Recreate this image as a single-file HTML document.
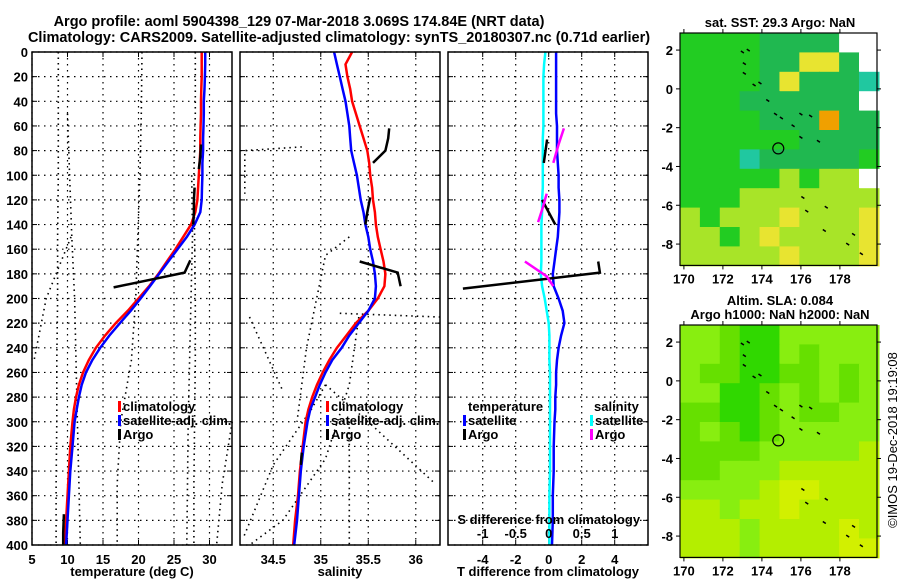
<!DOCTYPE html>
<html><head><meta charset="utf-8"><style>
body{margin:0;background:#fff;}
svg{display:block;font-family:"Liberation Sans",sans-serif;font-weight:bold;}
</style></head><body>
<svg id="c" width="900" height="580" viewBox="0 0 900 580" xmlns="http://www.w3.org/2000/svg">
<text x="299" y="26" font-size="14.5" text-anchor="middle">Argo profile: aoml 5904398_129 07-Mar-2018 3.069S 174.84E (NRT data)</text>
<text x="339" y="42" font-size="14.5" text-anchor="middle">Climatology: CARS2009. Satellite-adjusted climatology: synTS_20180307.nc (0.71d earlier)</text>
</svg>
<script>
// ---- profile data ----
const depths=[0,10,20,30,40,50,60,70,80,90,100,110,120,130,140,150,160,170,180,190,200,210,220,230,240,250,260,270,280,290,300,320,340,360,380,400];
const climT=[28.9,28.9,28.9,28.85,28.8,28.8,28.75,28.7,28.7,28.6,28.5,28.4,28.3,28.0,27.4,26.3,25.2,24.0,22.8,21.5,20.0,18.5,16.8,15.3,14.0,13.0,12.2,11.6,11.2,10.9,10.7,10.4,10.2,10.0,9.8,9.6];
const satT=[29.4,29.4,29.35,29.3,29.2,29.2,29.15,29.1,29.1,29.0,29.0,28.95,28.9,28.7,27.9,26.8,25.5,24.2,22.9,21.6,20.3,18.9,17.4,15.9,14.6,13.5,12.6,12.0,11.6,11.3,11.0,10.7,10.4,10.2,10.0,9.8];
const climS=[35.33,35.26,35.28,35.31,35.33,35.37,35.41,35.45,35.49,35.51,35.52,35.54,35.55,35.57,35.58,35.6,35.63,35.66,35.68,35.67,35.6,35.5,35.37,35.27,35.17,35.09,35.02,34.96,34.91,34.87,34.84,34.81,34.78,34.76,34.73,34.71];
const satS=[35.14,35.17,35.2,35.23,35.26,35.28,35.3,35.31,35.32,35.35,35.38,35.4,35.42,35.45,35.47,35.5,35.52,35.55,35.57,35.58,35.57,35.5,35.4,35.3,35.22,35.12,35.05,34.99,34.94,34.89,34.86,34.82,34.79,34.77,34.75,34.72];
const satDT=[0.45,0.45,0.45,0.45,0.45,0.45,0.5,0.5,0.5,0.55,0.6,0.6,0.65,0.65,0.6,0.55,0.45,0.35,0.25,0.3,0.6,0.85,0.95,0.75,0.6,0.5,0.45,0.45,0.4,0.4,0.35,0.3,0.3,0.25,0.25,0.2];
const satDS=[-0.05,-0.07,-0.08,-0.08,-0.08,-0.08,-0.08,-0.09,-0.09,-0.09,-0.09,-0.09,-0.1,-0.1,-0.11,-0.11,-0.11,-0.11,-0.12,-0.1,-0.06,-0.03,0,0.01,0.01,0.01,0.02,0.02,0.02,0.02,0.02,0.02,0.02,0.01,0.01,0.01];
const argoTD=[75,85,95,null,110,120,130,140,null,169,179,191,null,375,390,400];
const argoT=[28.8,28.7,28.5,null,27.9,27.8,27.8,27.7,null,27.3,26.5,16.5,null,9.5,9.4,9.4];
const argoSD=[62,70,80,90,null,118,130,140,null,170,179,190,null,325,335];
const argoS=[35.72,35.71,35.68,35.55,null,35.52,35.49,35.47,null,35.41,35.81,35.84,null,34.8,34.79];
const argoDTD=[71,90,null,120,140,null,170,179,192];
const argoDT=[-0.1,-0.3,null,-0.4,0.4,null,3.0,3.1,-5.2];
const argoDSD=[62,75,90,null,115,128,138,null,170,182,190];
const argoDS=[0.23,0.15,0.07,null,-0.03,-0.1,-0.16,null,-0.36,-0.03,0.07];
// other nearby profiles (dotted)
const othD=[0,50,100,150,200,250,300,350,400];
const othT1=[8.7,8.7,8.7,8.6,8.6,8.5,8.5,8.4,8.4];
const othT2=[null,10.0,10.3,10.6,11.0,11.2,11.4,11.6,11.8];
const othT3=[20.5,20.4,20.2,19.9,19.6,19.0,17.5,17.0,17.0];
const othT4=[null,null,null,10.5,7.0,5.3,null,null,null];
const othT5=[null,null,27.5,27.6,27.4,27.2,27.0,26.9,26.8];
const othT6=[null,null,null,null,null,null,33.2,31.8,31.0];
const othT7=[28.0,28.0,27.8,27.9,28.0,28.0,27.9,27.8,27.8];
const othS1D=[77,80,115], othS1=[34.8,34.2,34.2];
const othS2D=[270,290,335,395], othS2=[35.05,34.9,34.5,34.18];
const othS3D=[270,300,350], othS3=[35.05,35.5,36.2];
const othS4D=[215,270,330,380,400], othS4=[35.4,35.3,35.05,34.6,34.25];
const othS5D=[212,215], othS5=[35.2,36.25];
const othS6D=[150,165,240,300], othS6=[35.3,35.05,34.85,34.75];
const othS7D=[300,400], othS7=[35.3,35.3];
const othS8D=[215,275], othS8=[34.25,34.6];
// ---- map data ----
const sstRows=["1111222200","1111224420","1111242226","1112222220","1111222522","1111112222","1116222221","1111131330","1113333333","3133343334","3313433334","3333343334"];
const slaRows=["aabccaaaaa","aabccabaaa","abbccbbaba","aaccbababa","bbccbabbaa","babcbaaaaa","bbbbaaaaad","bbaaaddddd","aaaadeeddd","ddaddedddd","dddadddded","dddaddddee"];
const trackLon=[173.0,173.1,173.1,173.3,173.6,173.9,174.3,174.7,175.0,175.6,176.0,176.5,176.0,176.9,176.1,176.3,177.3,177.2,178.7,178.4,179.1];
const trackLat=[1.9,1.3,0.8,2.0,0.2,0.3,-0.6,-1.3,-1.5,-1.9,-1.3,-1.4,-2.5,-2.7,-5.6,-6.3,-6.1,-7.3,-7.5,-8.0,-8.5];
const lonTicks=[170,172,174,176,178];
const latTicks=[2,0,-2,-4,-6,-8];
const tTicks=[5,10,15,20,25,30], sTicks=[34.5,35,35.5,36], dTTicks=[-4,-2,0,2,4], dSTicks=[-1,-0.5,0,0.5,1];
const depthTicks=[0,20,40,60,80,100,120,140,160,180,200,220,240,260,280,300,320,340,360,380,400];

const svg=document.getElementById('c');const NS='http://www.w3.org/2000/svg';
function el(t,a,p){const e=document.createElementNS(NS,t);for(const k in a)e.setAttribute(k,a[k]);(p||svg).appendChild(e);return e;}
const Y0=52,Y1=545;const yD=d=>Y0+d*(Y1-Y0)/400;
function mkX(x0,x1,v0,v1){return v=>x0+(v-v0)*(x1-x0)/(v1-v0);}
const P1={x0:32,x1:232,v0:5,v1:33.17}, P2={x0:240,x1:440,v0:34.15,v1:36.255}, P3={x0:448,x1:648};
const xT=mkX(P1.x0,P1.x1,P1.v0,P1.v1), xS=mkX(P2.x0,P2.x1,P2.v0,P2.v1);
const xDT=v=>548.7+v*16.5, xDS=v=>548.7+v*66;
function line(xs,ds,xf,style,name){let d='',pen=false;for(let i=0;i<xs.length;i++){if(xs[i]==null||ds[i]==null){pen=false;continue;}d+=(pen?'L':'M')+xf(xs[i]).toFixed(1)+' '+yD(ds[i]).toFixed(1);pen=true;}
 const p=el('path',Object.assign({d:d,fill:'none'},style));return p;}
function panel(P,name,xticks,xf){
 const g=el('g',{});
 for(const t of xticks){el('line',{x1:xf(t),x2:xf(t),y1:Y0,y2:Y1,stroke:'#000','stroke-dasharray':'1.5,4.5','stroke-width':1.2},g);
  el('line',{x1:xf(t),x2:xf(t),y1:Y1,y2:Y1-5,stroke:'#000'},g);el('line',{x1:xf(t),x2:xf(t),y1:Y0,y2:Y0+5,stroke:'#000'},g);}
 for(const d of depthTicks){el('line',{x1:P.x0,x2:P.x1,y1:yD(d),y2:yD(d),stroke:'#000','stroke-dasharray':'1.5,4.5','stroke-width':1.2},g);
  el('line',{x1:P.x0,x2:P.x0+5,y1:yD(d),y2:yD(d),stroke:'#000'},g);el('line',{x1:P.x1-5,x2:P.x1,y1:yD(d),y2:yD(d),stroke:'#000'},g);}
 return g;}
const dot={stroke:'#000','stroke-width':1.6,'stroke-dasharray':'1.5,4'};
panel(P1,'temperature-panel',tTicks,xT);
[othT1,othT2,othT3,othT4,othT5,othT6,othT7].forEach((a,i)=>line(a,othD,xT,dot,'nearby-profile-t-'+(i+1)));
line(climT,depths,xT,{stroke:'#f00','stroke-width':2.5},'climatology-t-line');
line(satT,depths,xT,{stroke:'#00f','stroke-width':2.5},'satellite-t-line');
line(argoT,argoTD,xT,{stroke:'#000','stroke-width':2.5},'argo-t-line');
panel(P2,'salinity-panel',sTicks,xS);
[[othS1,othS1D],[othS2,othS2D],[othS3,othS3D],[othS4,othS4D],[othS5,othS5D],[othS6,othS6D],[othS7,othS7D],[othS8,othS8D]].forEach((a,i)=>line(a[0],a[1],xS,dot,'nearby-profile-s-'+(i+1)));
line(climS,depths,xS,{stroke:'#f00','stroke-width':2.5},'climatology-s-line');
line(satS,depths,xS,{stroke:'#00f','stroke-width':2.5},'satellite-s-line');
line(argoS,argoSD,xS,{stroke:'#000','stroke-width':2.5},'argo-s-line');
panel(P3,'difference-panel',dTTicks,xDT);
line(satDS,depths,xDS,{stroke:'#0ff','stroke-width':2.5},'satellite-s-diff-line');
line(satDT,depths,xDT,{stroke:'#00f','stroke-width':2.5},'satellite-t-diff-line');
line(argoDT,argoDTD,xDT,{stroke:'#000','stroke-width':2.5},'argo-t-diff-line');
line(argoDS,argoDSD,xDS,{stroke:'#f0f','stroke-width':2.5},'argo-s-diff-line');
[P1,P2,P3].forEach((P,i)=>{const r=el('rect',{x:P.x0,y:Y0,width:P.x1-P.x0,height:Y1-Y0,fill:'none',stroke:'#000','stroke-width':1.5});});
function txt(x,y,s,name,o){const t=el('text',Object.assign({x:x,y:y,'font-size':13},o||{}));t.textContent=s;return t;}
depthTicks.forEach(d=>txt(28,yD(d)+5,String(d),'depth-tick-label',{'text-anchor':'end'}));
tTicks.forEach(t=>txt(xT(t),564,String(t),'t-tick-label',{'text-anchor':'middle'}));
sTicks.forEach(t=>txt(xS(t),564,String(t),'s-tick-label',{'text-anchor':'middle'}));
dTTicks.forEach(t=>txt(xDT(t),564,String(t),'dt-tick-label',{'text-anchor':'middle'}));
dSTicks.forEach(t=>txt(xDS(t),538,String(t),'ds-tick-label',{'text-anchor':'middle'}));
txt(xDS(0),524,'S difference from climatology','s-diff-axis-title',{'text-anchor':'middle'});
txt(132,576,'temperature (deg C)','x-axis-title-temperature',{'text-anchor':'middle'});
txt(340,576,'salinity','x-axis-title-salinity',{'text-anchor':'middle'});
txt(548,576,'T difference from climatology','x-axis-title-tdiff',{'text-anchor':'middle'});
function leg(x,y,col,s,name){el('rect',{x:x,y:y-10,width:3,height:11,fill:col});txt(x+5,y,s,name);}
leg(118,411,'#f00','climatology','legend-climatology-t');leg(118,425,'#00f','satellite-adj. clim.','legend-satellite-t');leg(118,439,'#000','Argo','legend-argo-t');
leg(326,411,'#f00','climatology','legend-climatology-s');leg(326,425,'#00f','satellite-adj. clim.','legend-satellite-s');leg(326,439,'#000','Argo','legend-argo-s');
txt(468,411,'temperature','legend-title-temperature');leg(463,425,'#00f','satellite','legend-satellite-dt');leg(463,439,'#000','Argo','legend-argo-dt');
txt(594,411,'salinity','legend-title-salinity');leg(590,425,'#0ff','satellite','legend-satellite-ds');leg(590,439,'#f0f','Argo','legend-argo-ds');
const sstCol={'0':'#fff','1':'#22cc22','2':'#20b850','3':'#a8e428','4':'#e8e430','5':'#f0a000','6':'#20c8a0'};
const slaCol={a:'#88ee10',b:'#66e000',c:'#30d800',d:'#b4ee00',e:'#d2f000'};
function map(top,rows,cols,name,titles){
 const mx=v=>680+(v-169.8)*19.5, my=v=>top+(2.88-v)*19.4;
 const g=el('g',{});
 rows.forEach((r,i)=>{for(let j=0;j<r.length;j++){el('rect',{x:mx(169.8+j*1.02),y:my(2.88-i),width:20.5,height:20,fill:cols[r[j]]},g);}});
 trackLon.forEach((lo,i)=>el('line',{x1:mx(lo)-1.5,y1:my(trackLat[i])-1,x2:mx(lo)+1.5,y2:my(trackLat[i])+1,stroke:'#000','stroke-width':1.5},g));
 const c=el('circle',{cx:mx(174.84),cy:my(-3.069),r:5.5,fill:'none',stroke:'#000','stroke-width':1.2},g);
 const W=877,Hb=my(-9.1);
 el('rect',{x:680,y:top,width:197,height:Hb-top,fill:'none',stroke:'#000','stroke-width':1.2},g);
 lonTicks.forEach(v=>{el('line',{x1:mx(v),x2:mx(v),y1:Hb,y2:Hb+4,stroke:'#000'},g);el('line',{x1:mx(v),x2:mx(v),y1:top,y2:top-4,stroke:'#000'},g);txt(mx(v),Hb+18,String(v),'lon-tick-label',{'text-anchor':'middle'});});
 latTicks.forEach(v=>{el('line',{x1:676,x2:680,y1:my(v),y2:my(v),stroke:'#000'},g);el('line',{x1:W,x2:W+4,y1:my(v),y2:my(v),stroke:'#000'},g);txt(673,my(v)+5,String(v),'lat-tick-label',{'text-anchor':'end'});});
 titles.forEach((t,i)=>txt(780,top-6-(titles.length-1-i)*14,t,'map-title',{'text-anchor':'middle','font-size':13}));
}
map(33,sstRows,sstCol,'sst-map',['sat. SST: 29.3 Argo: NaN']);
map(325,slaRows,slaCol,'sla-map',['Altim. SLA: 0.084','Argo h1000: NaN h2000: NaN']);
txt(0,0,'©IMOS 19-Dec-2018 19:19:08','copyright-timestamp',{transform:'translate(897,440) rotate(-90)','text-anchor':'middle','font-weight':'normal','font-size':13});
</script>
</body></html>
